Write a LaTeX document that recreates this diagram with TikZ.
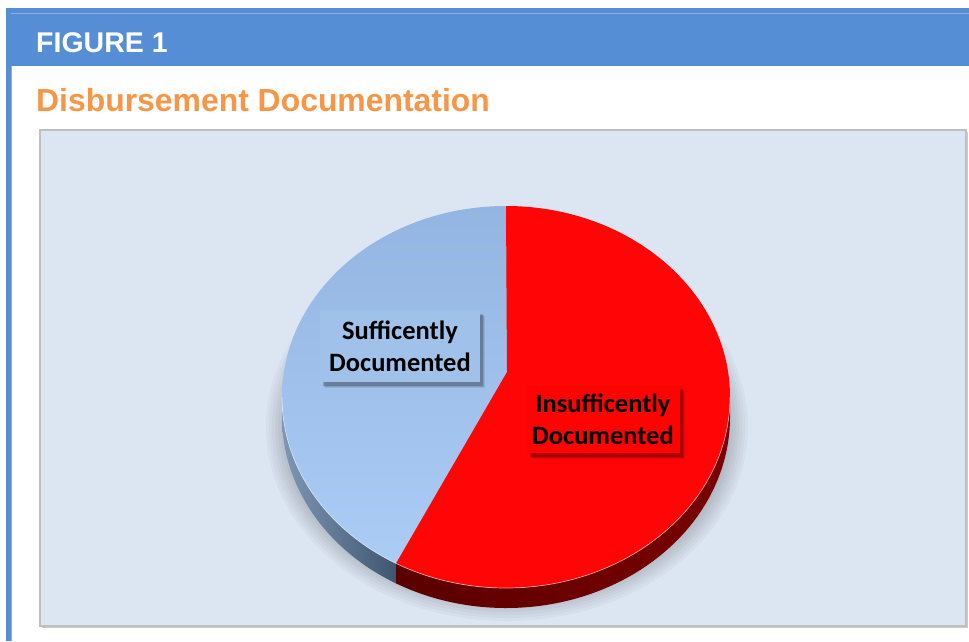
\documentclass[tikz,border=0pt]{standalone}
\usepackage{fontspec}
\setmainfont{Liberation Sans}
\newfontfamily\labfont{Carlito}
\usetikzlibrary{shadows,calc}
\definecolor{hdrblue}{HTML}{558ED5}
\definecolor{hdrlight}{HTML}{8DB3E6}
\definecolor{titleorange}{HTML}{F79646}
\definecolor{plotbg}{HTML}{DCE6F2}
\definecolor{plotborder}{HTML}{BFBFBF}
\definecolor{bluetop1}{HTML}{93B5E1}
\definecolor{bluetop2}{HTML}{AACCF5}
\definecolor{bside1}{HTML}{7E97B4}
\definecolor{bside2}{HTML}{3F5671}
\definecolor{redtop}{HTML}{FF0505}
\definecolor{rside1}{HTML}{5A0000}
\definecolor{rside2}{HTML}{7A0000}
\definecolor{sufbox}{HTML}{9FC1EA}
\definecolor{insbox}{HTML}{FF0303}
\tikzset{
  lab/.style={font=\labfont\bfseries\fontsize{26.5}{32}\selectfont, align=center,
    inner sep=0pt, text=black,
    drop shadow={shadow xshift=5pt, shadow yshift=-6pt, fill=black, opacity=0.08},
    drop shadow={shadow xshift=4pt, shadow yshift=-5pt, fill=black, opacity=0.12},
    drop shadow={shadow xshift=3pt, shadow yshift=-3.5pt, fill=black, opacity=0.18}},
  ell/.style={x radius=224, y radius=191}
}
\begin{document}
\begin{tikzpicture}[x=1pt,y=-1pt]
\useasboundingbox (0,0) rectangle (969,641);
\fill[white] (0,0) rectangle (969,641);
% header bar and left border
\fill[hdrblue] (6,8) rectangle (969,66);
\draw[hdrlight, line width=1pt] (11,13) -- (969,13);
\fill[hdrblue] (6,8) rectangle (11,641);
\draw[hdrlight, line width=0.8pt] (11.5,66) -- (11.5,641);
\node[anchor=base west, inner sep=0pt, text=white, font=\bfseries\fontsize{28.5}{30}\selectfont] (fig) at (36,52) {FIGURE 1};
\node[anchor=base west, inner sep=0pt, text=titleorange, font=\bfseries\fontsize{31.9}{34}\selectfont] (title) at (36,111) {Disbursement Documentation};
% plot area
\fill[plotborder!80] (42,132) rectangle (968,628);
\filldraw[fill=plotbg, draw=plotborder, line width=1.2pt] (40,130) rectangle (966,626);
% pie shadow
\foreach \i in {0,...,11} {
  \fill[black, opacity=0.026] (507,427) ellipse [x radius={241-3*\i}, y radius={194-3*\i}];
}
% pie geometry
\coordinate (C) at (506,397);
\coordinate (T) at (506,206);
\coordinate (A) at (507,372);
\coordinate (S) at ($(C)+(119.4:224 and 191)$);
\coordinate (L) at ($(C)+(180:224 and 191)$);
\coordinate (R) at ($(C)+(0:224 and 191)$);
% sides
\shade[left color=bside1, right color=bside2] (L) arc[start angle=180, end angle=119.4, ell] -- ++(0,20) arc[start angle=119.4, end angle=180, ell] -- cycle;
\shade[left color=rside1, right color=rside2] (S) arc[start angle=119.4, end angle=0, ell] -- ++(0,20) arc[start angle=0, end angle=119.4, ell] -- cycle;
% top faces
\shade[top color=bluetop1, bottom color=bluetop2] (T) arc[start angle=270, end angle=119.4, ell] -- (A) -- cycle;
\fill[redtop] (T) arc[start angle=-90, end angle=119.4, ell] -- (A) -- cycle;
\draw[white, opacity=0.6, line width=0.7pt] (L) arc[start angle=180, end angle=0, ell];
% labels
\node[lab, fill=sufbox, minimum width=160pt, minimum height=72pt] (suf) at (400,346) {Sufficently\\Documented};
\node[lab, fill=insbox, minimum width=153pt, minimum height=68pt] (ins) at (603,419) {Insufficently\\Documented};
\end{tikzpicture}
\end{document}
